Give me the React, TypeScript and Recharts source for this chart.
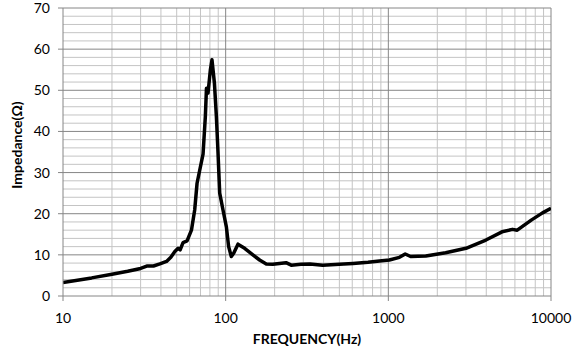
import React from "react";
import { LineChart, Line, XAxis, YAxis, ReferenceLine } from "recharts";

const freq = [10, 15, 20, 25, 30, 33, 36, 39.4, 43.3, 46, 48.7, 51, 52.5, 54.7, 57.9, 61.6, 64.5, 66.7, 69.2, 72.6, 75, 76.2, 77.9, 80.5, 82.4, 85.3, 87.7, 89.7, 91.9, 96.3, 101, 104.3, 108.3, 112, 119, 130.8, 147, 161.7, 177.7, 195, 214, 235, 253, 290, 330, 395, 500, 606, 750, 882, 1015, 1170, 1270, 1370, 1700, 2250, 3000, 3980, 5000, 5800, 6200, 7600, 8870, 10000];
const impedance = [3.3, 4.4, 5.3, 6.0, 6.7, 7.3, 7.3, 7.8, 8.4, 9.4, 10.8, 11.6, 11.2, 13.0, 13.4, 16.0, 20.9, 27.4, 30.5, 34.5, 43.6, 50.5, 49.3, 54.9, 57.4, 51.7, 43.6, 35.0, 25.0, 20.9, 16.8, 12.0, 9.6, 10.4, 12.6, 11.6, 10.0, 8.75, 7.8, 7.7, 7.9, 8.1, 7.5, 7.7, 7.8, 7.5, 7.7, 7.9, 8.2, 8.5, 8.75, 9.4, 10.2, 9.6, 9.7, 10.5, 11.6, 13.6, 15.6, 16.2, 16.0, 18.5, 20.2, 21.3];

const xTicks = [10, 100, 1000, 10000];
const yTicks = [0, 10, 20, 30, 40, 50, 60, 70];
const decades = [10, 100, 1000];
const minorMultipliers = [2, 3, 4, 5, 6, 7, 8, 9];
const yMinor = [2, 4, 6, 8, 12, 14, 16, 18, 22, 24, 26, 28, 32, 34, 36, 38, 42, 44, 46, 48, 52, 54, 56, 58, 62, 64, 66, 68];
const yMajor = [10, 20, 30, 40, 50, 60, 70];
const xMajor = [100, 1000, 10000];

const data = freq.map((f, i) => ({ f, z: impedance[i] }));
const xMinor = decades.flatMap((d) => minorMultipliers.map((m) => d * m));

const FONT = "Lato, 'Open Sans', sans-serif";
const MAJOR = "#868686";
const MINOR = "#c4c4c4";

const XTitle = (props: any) => {
  const vb = props.viewBox || {};
  const cx = vb.x + vb.width / 2;
  return (
    <text x={cx} y={vb.y + 48} textAnchor="middle" fontFamily={FONT} fontWeight="bold" fontSize={14} fill="#000">
      FREQUENCY(Hz)
    </text>
  );
};

const YTitle = (props: any) => {
  const vb = props.viewBox || {};
  const cy = vb.y + vb.height / 2 - 7;
  const x = 22;
  return (
    <text x={x} y={cy} transform={`rotate(-90, ${x}, ${cy})`} textAnchor="middle" fontFamily={FONT} fontWeight="bold" fontSize={14} fill="#000">
      Impedance(Ω)
    </text>
  );
};

export default function App() {
  return (
    <div style={{ position: "absolute", left: 0, top: 0, background: "#fff" }}>
      <LineChart width={575} height={358} data={data} margin={{ top: 8, right: 24, bottom: 0, left: 0 }}>
        <XAxis
          dataKey="f"
          type="number"
          scale="log"
          domain={[10, 10000]}
          ticks={xTicks}
          allowDataOverflow
          height={62}
          tickSize={5}
          tickMargin={12}
          stroke={MAJOR}
          tick={{ fill: "#000", fontSize: 14, fontFamily: FONT }}
          label={<XTitle />}
        />
        <YAxis
          type="number"
          domain={[0, 70]}
          ticks={yTicks}
          width={63}
          tickSize={5}
          tickMargin={8}
          stroke={MAJOR}
          tick={{ fill: "#000", fontSize: 14, fontFamily: FONT }}
          label={<YTitle />}
        />
        {xMinor.map((v) => (
          <ReferenceLine key={`xm${v}`} x={v} stroke={MINOR} strokeWidth={1} />
        ))}
        {yMinor.map((v) => (
          <ReferenceLine key={`ym${v}`} y={v} stroke={MINOR} strokeWidth={1} />
        ))}
        {xMajor.map((v) => (
          <ReferenceLine key={`xM${v}`} x={v} stroke={MAJOR} strokeWidth={1} />
        ))}
        {yMajor.map((v) => (
          <ReferenceLine key={`yM${v}`} y={v} stroke={MAJOR} strokeWidth={1} />
        ))}
        <Line
          type="linear"
          dataKey="z"
          stroke="#000"
          strokeWidth={3.5}
          dot={false}
          isAnimationActive={false}
          strokeLinejoin="round"
        />
      </LineChart>
    </div>
  );
}
